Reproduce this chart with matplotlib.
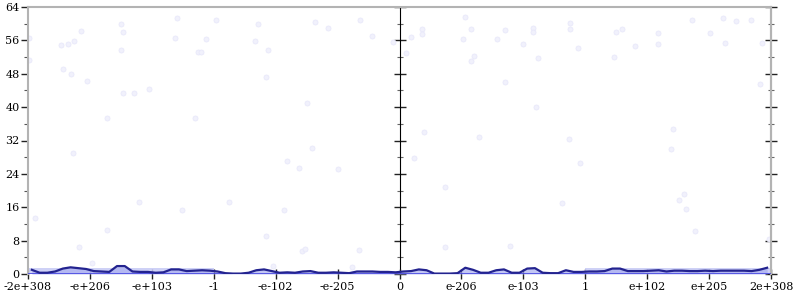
import matplotlib.pyplot as plt
from matplotlib.ticker import MultipleLocator
import numpy as np

# x positions are in "tick units": -6 .. 6 span the ordered float range
tick_pos = np.arange(-6, 7)
tick_labels = ["-2e+308", "-e+206", "-e+103", "-1", "-e-102", "-e-205", "0",
               "e-206", "e-103", "1", "e+102", "e+205", "2e+308"]

# running line, 96 bins of 0.125 units each
line_vals = [1.0, 0.3, 0.3, 0.6, 1.3, 1.6, 1.4, 1.2, 0.7, 0.6, 0.5, 1.9,
             1.9, 0.6, 0.5, 0.5, 0.3, 0.4, 1.1, 1.1, 0.7, 0.8, 0.9, 0.8,
             0.6, 0.2, 0.1, 0.1, 0.3, 0.9, 1.1, 0.7, 0.3, 0.4, 0.3, 0.6,
             0.7, 0.3, 0.3, 0.4, 0.3, 0.2, 0.6, 0.6, 0.6, 0.5, 0.5, 0.4,
             0.6, 0.7, 1.1, 0.9, 0.1, 0.1, 0.1, 0.2, 1.5, 1.0, 0.3, 0.3,
             0.9, 1.1, 0.3, 0.3, 1.3, 1.4, 0.3, 0.2, 0.2, 0.9, 0.5, 0.5,
             0.6, 0.6, 0.7, 1.3, 1.3, 0.7, 0.7, 0.7, 0.8, 0.9, 0.6, 0.8,
             0.8, 0.7, 0.7, 0.8, 0.7, 0.8, 0.8, 0.8, 0.8, 0.7, 1.0, 1.5]
bin_width = 0.125
line_x = -6 + bin_width / 2 + bin_width * np.arange(len(line_vals))

# light band regions (start, end, top)
band_start = [-6, 3]
band_end = [-3, 6]
band_top = [1.5, 1.5]

# individual samples
pts_x = [-5.99, -5.99, -5.47, -5.35, -5.25, -5.14, -5.44, -5.31, -5.04, -4.73,
         -4.49, -4.46, -4.49, -4.47, -4.28, -4.04, -3.60, -3.62, -3.31, -3.25,
         -2.96, -2.28, -1.36, -1.15, -0.63, -0.44, -0.11, -3.12, -2.33, -3.20,
         -2.12, -2.15, -1.50, -1.41, 1.05, 0.36, 1.15, 1.70, 2.15, 2.76,
         2.76, 0.18, 0.37, 1.02, 1.58, 2.15, 2.00, 2.89, 0.11, 1.20,
         1.15, 2.23, 1.71, 2.21, 0.39, 1.28, 2.73, 3.50, 3.59, 4.18,
         4.72, 5.22, 5.44, 5.67, 5.01, 3.80, 4.17, 5.26, 5.86, 3.47,
         5.83, 4.41, 4.39, -5.28, -4.20, -3.52, -5.89, -4.73, -5.17, -4.96,
         -1.58, -1.52, -0.66, -2.05, -0.76, -1.82, -1.63, -0.99, -2.76, -1.86,
         -2.16, 0.24, 2.91, 0.73, 2.63, 0.74, 1.79, 4.59, 4.51, 4.62,
         4.78, 5.96]
pts_y = [56.6, 51.3, 54.9, 55.2, 55.9, 58.3, 49.2, 48.0, 46.3, 37.4,
         60.0, 58.0, 53.7, 43.4, 43.4, 44.4, 61.4, 56.6, 37.4, 53.2,
         60.9, 60.0, 60.4, 59.0, 60.9, 57.1, 55.6, 56.4, 55.9, 53.2,
         53.7, 47.2, 41.0, 30.2, 61.6, 58.8, 58.8, 58.5, 59.0, 60.2,
         58.8, 56.8, 57.6, 56.4, 56.4, 58.0, 55.2, 54.2, 53.0, 52.3,
         51.1, 51.8, 46.0, 40.0, 34.1, 32.9, 32.4, 58.0, 58.8, 57.8,
         60.9, 61.4, 60.7, 60.9, 57.8, 54.7, 55.2, 55.4, 55.4, 52.0,
         45.6, 34.8, 30.0, 29.0, 17.3, 15.3, 13.4, 10.6, 6.5, 2.6,
         5.5, 6.0, 5.8, 1.9, 1.7, 27.1, 25.4, 25.2, 17.3, 15.3,
         9.1, 27.8, 26.6, 20.9, 17.0, 6.5, 6.7, 19.2, 17.7, 15.6,
         10.3, 8.4]

plt.rcParams['font.family'] = 'DejaVu Serif'
fig = plt.figure(figsize=(8, 3), dpi=100)
ax = fig.add_axes([28 / 800, 26 / 300, 743 / 800, 267 / 300])

ax.scatter(pts_x, pts_y, s=13, facecolor='#f1f1fc', edgecolor='#e8e8fa',
           linewidth=0.6, zorder=1)

for s, e, t in zip(band_start, band_end, band_top):
    ax.fill_between([s, e], 0, t, color='#c6c9f5', alpha=0.85, lw=0, zorder=2)

ax.fill_between(line_x, 0, line_vals, color='#a9aef0', alpha=0.7, lw=0, zorder=2)
ax.plot(line_x, line_vals, color='#23238f', lw=1.6, zorder=4)
ax.axhline(0, color='#3a3ae0', lw=1.8, zorder=3)

ax.set_xlim(-6, 6)
ax.set_ylim(0, 64)
ax.set_xticks(tick_pos)
ax.set_xticklabels(tick_labels, fontsize=8)
ax.yaxis.set_major_locator(MultipleLocator(8))
ax.yaxis.set_minor_locator(MultipleLocator(4))
ax.tick_params(axis='y', labelsize=8, direction='out', length=5, width=1,
               color='#222222', pad=1)
ax.tick_params(axis='y', which='minor', direction='out', length=3, width=0.8,
               color='#555555')
ax.tick_params(axis='x', direction='inout', length=7, width=1,
               color='#222222', pad=2)

for side in ['left', 'right', 'top']:
    ax.spines[side].set_color('#b3b3b3')
    ax.spines[side].set_linewidth(1.5)
ax.spines['bottom'].set_visible(False)

# middle and right axes with crossing ticks
for loc in [0.5, 1.0]:
    sec = ax.secondary_yaxis(loc)
    sec.spines[('left' if loc == 0.5 else 'right')].set_color('#b3b3b3')
    sec.spines[('left' if loc == 0.5 else 'right')].set_linewidth(1.5)
    sec.yaxis.set_major_locator(MultipleLocator(8))
    sec.yaxis.set_minor_locator(MultipleLocator(4))
    sec.tick_params(axis='y', direction='inout', length=9, width=1,
                    color='#222222', labelleft=False, labelright=False)
    sec.tick_params(axis='y', which='minor', direction='inout', length=5,
                    width=0.8, color='#666666')

fig.savefig('out.png', dpi=100)
